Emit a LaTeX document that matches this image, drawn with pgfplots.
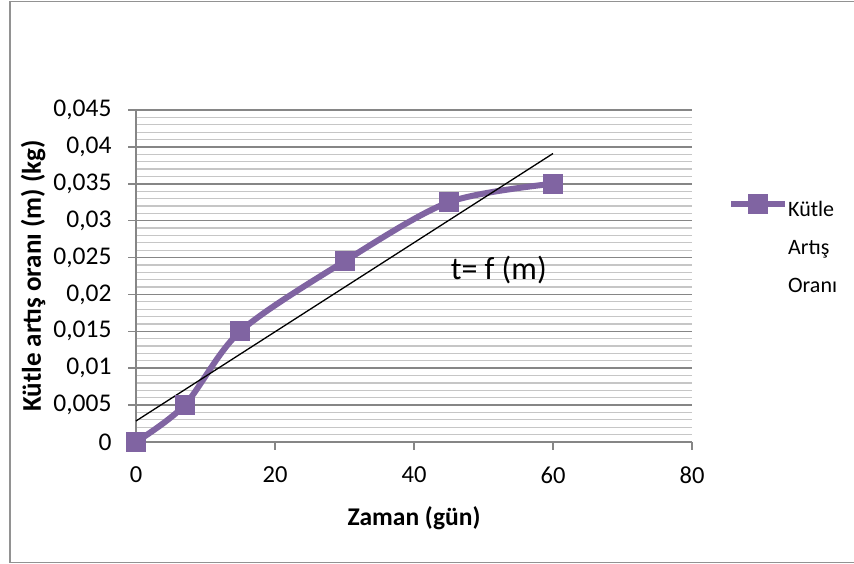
\documentclass[border=0pt]{standalone}
\usepackage{fontspec}
\setmainfont{Carlito}
\usepackage{pgfplots}
\pgfplotsset{compat=1.18}
\definecolor{kutle}{HTML}{8064A2}
\definecolor{axgray}{HTML}{868686}
\definecolor{mingray}{HTML}{C6C6C6}
\begin{document}
\begin{tikzpicture}[x=1pt,y=1pt]
\path[use as bounding box] (0,0) rectangle (854,564);
\draw[draw=axgray!90, line width=1.5pt] (10,1.5) rectangle (860,562.5);
\begin{axis}[
  at={(136pt,122pt)}, anchor=south west,
  scale only axis, width=556pt, height=332pt,
  xmin=0, xmax=80, ymin=0, ymax=0.045,
  xtick={0,20,40,60,80},
  xticklabels={0,20,40,60,80},
  ytick={0,0.005,0.01,0.015,0.02,0.025,0.03,0.035,0.04,0.045},
  yticklabels={0,{0,005},{0,01},{0,015},{0,02},{0,025},{0,03},{0,035},{0,04},{0,045}},
  scaled y ticks=false, scaled x ticks=false,
  minor y tick num=4,
  ymajorgrids, yminorgrids,
  major grid style={axgray, line width=1.5pt},
  minor grid style={mingray, line width=1.2pt},
  axis x line*=bottom, axis y line*=left,
  axis line style={axgray, line width=1.5pt, -},
  tick align=outside, major tick length=8pt, minor tick length=0pt,
  tick style={axgray, line width=1.5pt},
  xticklabel style={font=\fontsize{24.5}{28}\selectfont, yshift=-13pt},
  yticklabel style={font=\fontsize{25.5}{28}\selectfont, xshift=-13pt},
  xlabel={Zaman (gün)},
  ylabel={Kütle artış oranı (m) (kg)},
  every axis x label/.style={at={(axis description cs:0.5,-0.229)}, anchor=center,
    font=\bfseries\fontsize{25.5}{30}\selectfont},
  every axis y label/.style={at={(axis description cs:-0.185,0.5)}, anchor=center, rotate=90,
    font=\bfseries\fontsize{27}{30}\selectfont},
  clip=false,
  legend cell align=left,
  legend style={at={(axis description cs:1.0647,0.765)}, anchor=north west, draw=none, fill=none,
    inner sep=0pt, nodes={inner xsep=0pt}},
  legend image code/.code={\draw[mark repeat=2, mark phase=2, #1] plot coordinates {(0pt,0pt) (27pt,0pt) (54pt,0pt)};},
]
\addplot[kutle, line width=6pt, smooth, mark=square*, mark size=9.5pt, mark options={solid, line width=0pt}]
  coordinates {(0,0) (7,0.005) (15,0.015) (30,0.0245) (45,0.0325) (60,0.035)};
\addlegendentry{\fontsize{22}{38}\selectfont\begin{tabular}[t]{@{}l@{}}Kütle\\Artış\\Oranı\end{tabular}}
\addplot[black, line width=1.3pt, forget plot] coordinates {(0,0.00285) (60,0.0391)};
\node[font=\fontsize{32}{36}\selectfont] at (axis cs:52.2,0.0233) {t= f (m)};
\end{axis}
\end{tikzpicture}
\end{document}
